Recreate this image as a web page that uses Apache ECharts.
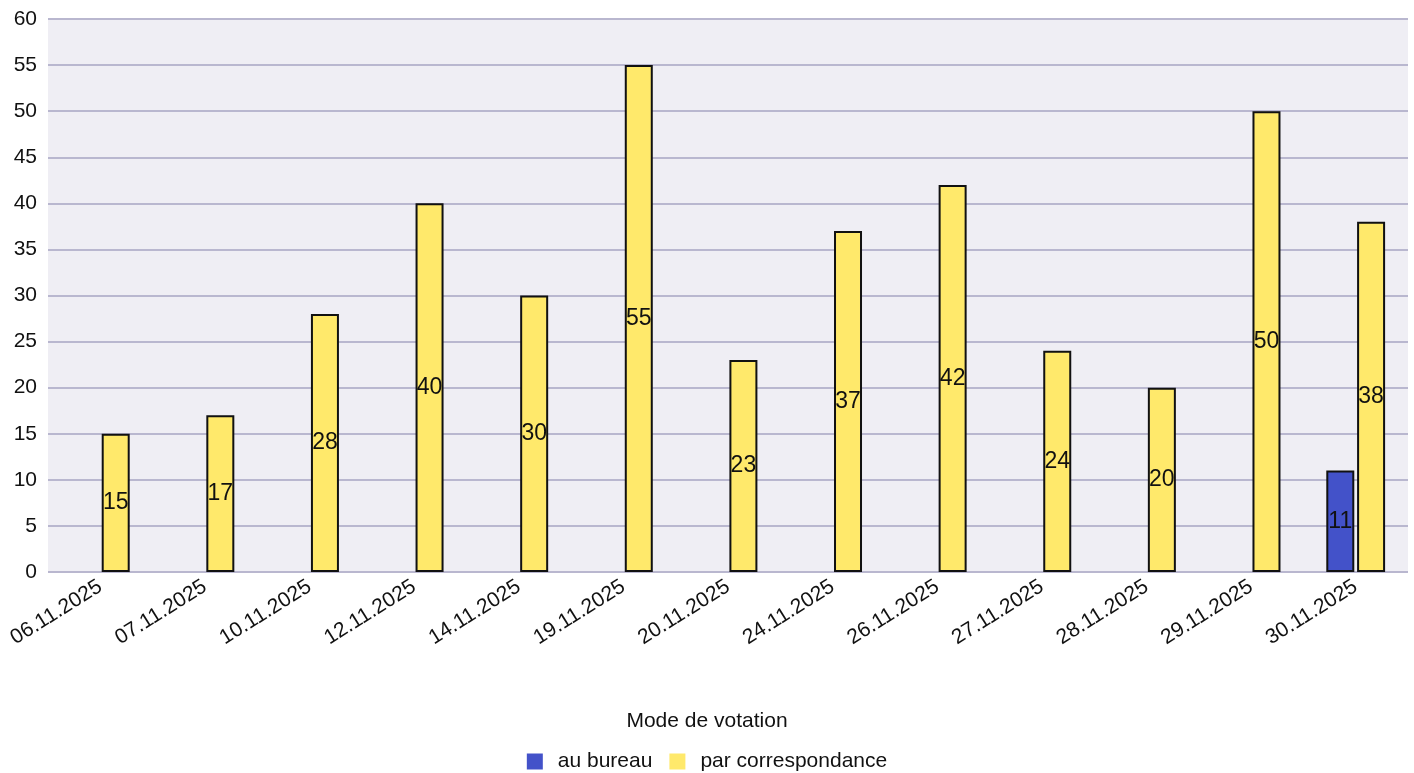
<!DOCTYPE html>
<html><head><meta charset="utf-8">
<script src="https://cdn.jsdelivr.net/npm/echarts@6/dist/echarts.min.js"></script>
<style>html,body{margin:0;padding:0;background:#fff}#c{width:1414px;height:773px}</style>
</head><body><div id="c"></div>
<script>
const categories = ['06.11.2025','07.11.2025','10.11.2025','12.11.2025','14.11.2025','19.11.2025','20.11.2025','24.11.2025','26.11.2025','27.11.2025','28.11.2025','29.11.2025','30.11.2025'];
const bureau = [null,null,null,null,null,null,null,null,null,null,null,null,11];
const correspondance = [15,17,28,40,30,55,23,37,42,24,20,50,38];
const yTicks = {min:0,max:60,interval:5};
const FONT = '"Liberation Sans", Arial, sans-serif';
const chart = echarts.init(document.getElementById('c'));
const label = {show:true, position:'inside', color:'#111', fontSize:23, fontFamily:FONT};
chart.setOption({
  animation:false,
  title:{text:'Mode de votation', left:'center', top:706, textStyle:{fontSize:21, fontWeight:'normal', color:'#111', fontFamily:FONT}},
  legend:{top:746, left:'center', itemWidth:16, itemHeight:16, itemGap:17, icon:'rect',
    itemStyle:{borderWidth:0},
    textStyle:{fontSize:21, color:'#111', fontFamily:FONT, padding:[0,0,0,10]}},
  grid:{left:48, right:6, top:19, bottom:201, show:true, backgroundColor:'#efeef4', borderWidth:0},
  xAxis:{type:'category', data:categories,
    axisLine:{show:false}, axisTick:{show:false},
    axisLabel:{rotate:32, fontSize:21, color:'#111', fontFamily:FONT, margin:13, interval:0}},
  yAxis:{type:'value', min:yTicks.min, max:yTicks.max, interval:yTicks.interval,
    axisLine:{show:false}, axisTick:{show:false},
    axisLabel:{fontSize:21, color:'#111', fontFamily:FONT, margin:11},
    splitLine:{lineStyle:{color:'#b9b7cf', width:2}}},
  series:[
    {name:'au bureau', type:'bar', data:bureau, barWidth:28, barGap:'10%',
     itemStyle:{color:'#4352c9', borderColor:'#111', borderWidth:2}, label:label},
    {name:'par correspondance', type:'bar', data:correspondance, barWidth:28,
     itemStyle:{color:'#ffe96b', borderColor:'#111', borderWidth:2}, label:label}
  ]
});
</script></body></html>
